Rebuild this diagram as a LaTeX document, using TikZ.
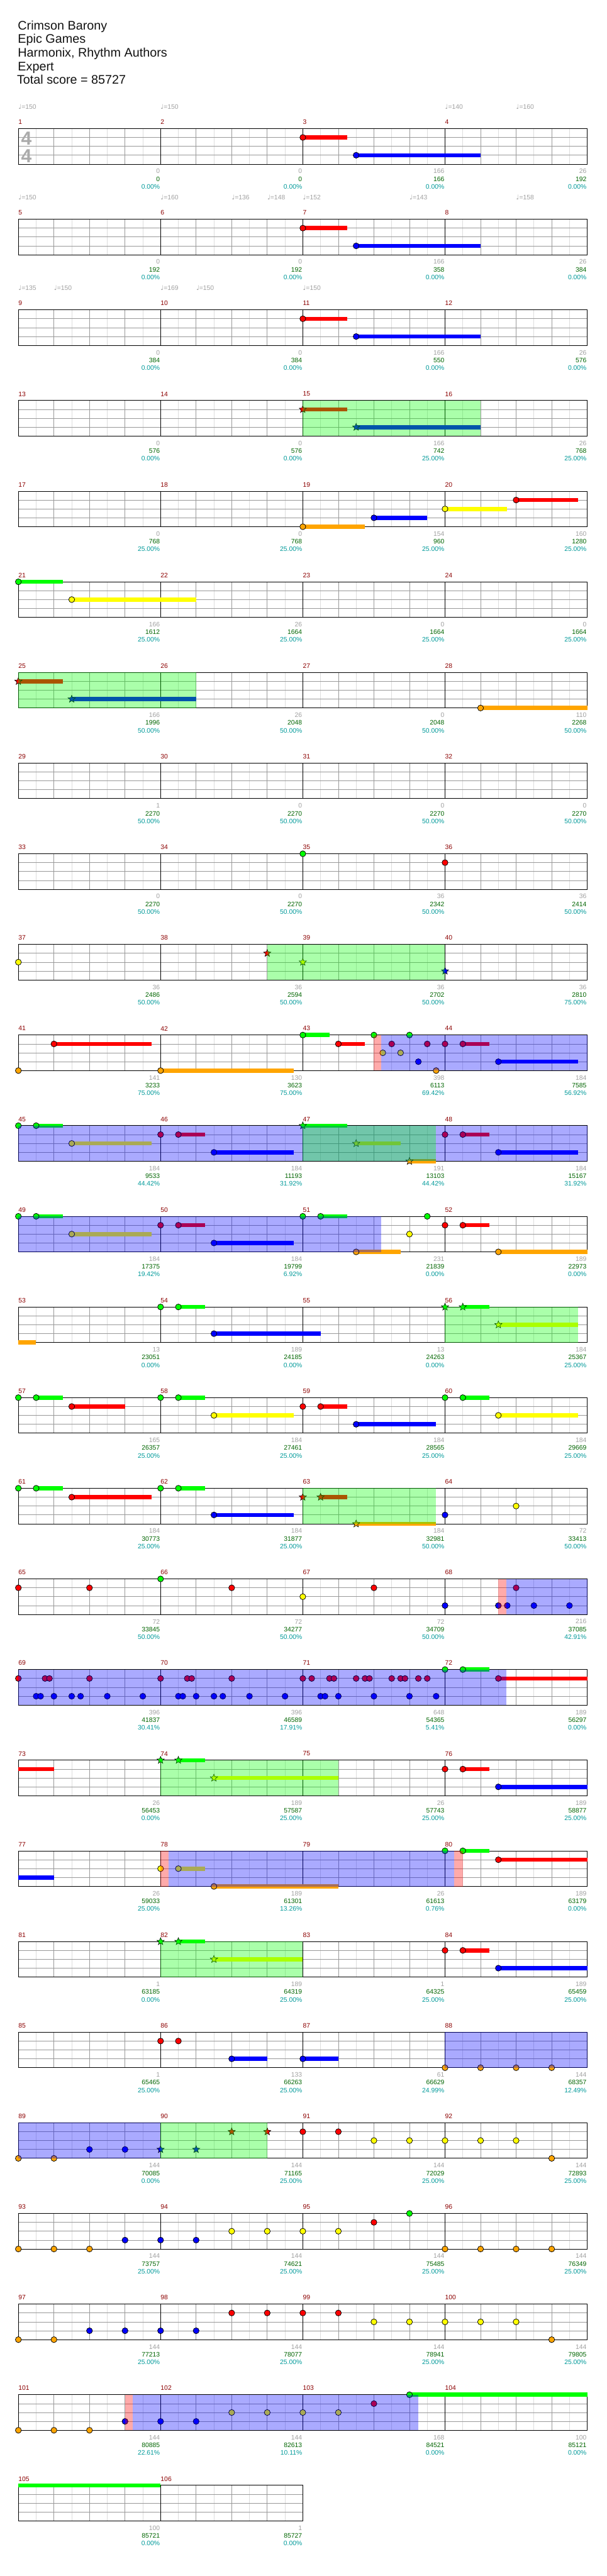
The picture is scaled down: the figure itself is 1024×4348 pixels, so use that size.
\documentclass[tikz,border=0pt]{standalone}
\usepackage{fontspec}
\setmainfont{Liberation Sans}
\newfontfamily\notefont{DejaVu Sans}
\usepackage{tikz}
\definecolor{cgrid}{HTML}{999999}
\definecolor{chalf}{HTML}{DDDDDD}
\definecolor{cnum}{HTML}{8B0000}
\definecolor{cgray}{HTML}{A0A0A0}
\definecolor{cscore}{HTML}{006400}
\definecolor{cpct}{HTML}{009999}
\definecolor{ln0}{HTML}{00FF00}
\definecolor{ln1}{HTML}{FF0000}
\definecolor{ln2}{HTML}{FFFF00}
\definecolor{ln3}{HTML}{0000FF}
\definecolor{ln4}{HTML}{FFA500}
\tikzset{lbl/.style={font=\fontsize{11}{12}\selectfont,inner sep=0pt},
  mnum/.style={lbl,text=cnum,anchor=west},
  tempo/.style={lbl,text=cgray,anchor=west},
  ttl/.style={font=\fontsize{21}{24}\selectfont,inner sep=0pt,anchor=base west,text=black!93},
  note/.style={draw=black,line width=0.8pt},
  halfln/.style={chalf,line width=0.8pt},
  beatln/.style={cgrid,line width=0.8pt},
  barln/.style={black,line width=0.9pt}}
% lanes: 0 green (top line) ... 4 orange (bottom line), x in beats from row start
\newcommand{\ntap}[2]{\filldraw[note,fill=ln#2] ({31+60*#1},{217+15*#2}) circle (5);}
\newcommand{\nhold}[3]{\fill[ln#3] ({31+60*#1},{213.5+15*#3}) rectangle ({31+60*#2},{220.5+15*#3});}
\newcommand{\nsus}[3]{\nhold{#1}{#2}{#3}\ntap{#1}{#3}}
\newcommand{\nstar}[2]{\filldraw[note,line width=0.6pt,fill=ln#2] ({31+60*#1},{217+15*#2}) +(270:6.5) -- +(306:2.8) -- +(342:6.5) -- +(18:2.8) -- +(54:6.5) -- +(90:2.8) -- +(126:6.5) -- +(162:2.8) -- +(198:6.5) -- +(234:2.8) -- cycle;}
\newcommand{\nssus}[3]{\nhold{#1}{#2}{#3}\nstar{#1}{#3}}
\newcommand{\spzone}[2]{\fill[ln0,fill opacity=0.333] ({31+60*#1},217) rectangle ({31+60*#2},277);}
\newcommand{\odzone}[2]{\fill[ln3,fill opacity=0.333] ({31+60*#1},217) rectangle ({31+60*#2},277);}
\newcommand{\aczone}[2]{\fill[ln1,fill opacity=0.333] ({31+60*#1},217) rectangle ({31+60*#2},277);}
\newcommand{\staffgrid}[1]{%
  \pgfmathtruncatemacro\nb{4*#1-1}
  \foreach \i in {0,...,\nb} \draw[halfln] ({61+60*\i},217) -- ++(0,60);
  \foreach \i in {1,...,\nb} \draw[beatln] ({31+60*\i},217) -- ++(0,60);
  \foreach \k in {1,2,3} \draw[beatln] (31,{217+15*\k}) -- ++({240*#1},0);
  \foreach \i in {1,...,#1} \draw[barln] ({31+240*\i},217) -- ++(0,60);
  \draw[barln] (31,217) rectangle ++({240*#1},60);}
\newcommand{\tempomark}[4]{\node[tempo] (#1) at (#2,#3) {{\notefont ♩}=#4};}

\begin{document}
\begin{tikzpicture}[x=1pt,y=-1pt]
\useasboundingbox (0,0) rectangle (1024,4348);

% ===== header =====
\node[ttl] (song) at (30,50) {Crimson Barony};
\node[ttl] (artist) at (30,73) {Epic Games};
\node[ttl] (charter) at (30,96) {Harmonix, Rhythm Authors};
\node[ttl] (diff) at (30,119) {Expert};
\node[ttl] (total) at (28.5,142) {Total score = 85727};

% ===== tempo marks =====
\tempomark{ta1}{31}{180}{150} \tempomark{ta2}{271}{180}{150}
\tempomark{ta3}{751}{180}{140} \tempomark{ta4}{871}{180}{160}
\tempomark{tb1}{31}{333}{150} \tempomark{tb2}{271}{333}{160}
\tempomark{tb3}{391}{333}{136} \tempomark{tb4}{451}{333}{148}
\tempomark{tb5}{511}{333}{152} \tempomark{tb6}{691}{333}{143}
\tempomark{tb7}{871}{333}{158}
\tempomark{tc1}{31}{486}{135} \tempomark{tc2}{91}{486}{150}
\tempomark{tc3}{271}{486}{169} \tempomark{tc4}{331}{486}{150}
\tempomark{tc5}{511}{486}{150}

% ===== staves =====
\foreach \r in {0,...,25} {\begin{scope}[shift={(0,153*\r)}]\staffgrid{4}\end{scope}}
\begin{scope}[shift={(0,153*26)}]\staffgrid{2}\end{scope}
\node[font=\fontsize{32}{32}\selectfont\bfseries,text=black!33,inner sep=0pt] (tsup) at (44.5,233.5) {4};
\node[font=\fontsize{32}{32}\selectfont\bfseries,text=black!33,inner sep=0pt] (tsdn) at (44.5,263.5) {4};

% ===== measure numbers and scores =====
\foreach \mno/\gain/\tot/\pct in {1/0/0/0.00,2/0/0/0.00,3/166/166/0.00,4/26/192/0.00,
  5/0/192/0.00,6/0/192/0.00,7/166/358/0.00,8/26/384/0.00,
  9/0/384/0.00,10/0/384/0.00,11/166/550/0.00,12/26/576/0.00,
  13/0/576/0.00,14/0/576/0.00,15/166/742/25.00,16/26/768/25.00,
  17/0/768/25.00,18/0/768/25.00,19/154/960/25.00,20/160/1280/25.00,
  21/166/1612/25.00,22/26/1664/25.00,23/0/1664/25.00,24/0/1664/25.00,
  25/166/1996/50.00,26/26/2048/50.00,27/0/2048/50.00,28/110/2268/50.00,
  29/1/2270/50.00,30/0/2270/50.00,31/0/2270/50.00,32/0/2270/50.00,
  33/0/2270/50.00,34/0/2270/50.00,35/36/2342/50.00,36/36/2414/50.00,
  37/36/2486/50.00,38/36/2594/50.00,39/36/2702/50.00,40/36/2810/75.00,
  41/141/3233/75.00,42/130/3623/75.00,43/398/6113/69.42,44/184/7585/56.92,
  45/184/9533/44.42,46/184/11193/31.92,47/191/13103/44.42,48/184/15167/31.92,
  49/184/17375/19.42,50/184/19799/6.92,51/231/21839/0.00,52/189/22973/0.00,
  53/13/23051/0.00,54/189/24185/0.00,55/13/24263/0.00,56/184/25367/25.00,
  57/165/26357/25.00,58/184/27461/25.00,59/184/28565/25.00,60/184/29669/25.00,
  61/184/30773/25.00,62/184/31877/25.00,63/184/32981/50.00,64/72/33413/50.00,
  65/72/33845/50.00,66/72/34277/50.00,67/72/34709/50.00,68/216/37085/42.91,
  69/396/41837/30.41,70/396/46589/17.91,71/648/54365/5.41,72/189/56297/0.00,
  73/26/56453/0.00,74/189/57587/25.00,75/26/57743/25.00,76/189/58877/25.00,
  77/26/59033/25.00,78/189/61301/13.26,79/26/61613/0.76,80/189/63179/0.00,
  81/1/63185/0.00,82/189/64319/25.00,83/1/64325/25.00,84/189/65459/25.00,
  85/1/65465/25.00,86/133/66263/25.00,87/61/66629/24.99,88/144/68357/12.49,
  89/144/70085/0.00,90/144/71165/25.00,91/144/72029/25.00,92/144/72893/25.00,
  93/144/73757/25.00,94/144/74621/25.00,95/144/75485/25.00,96/144/76349/25.00,
  97/144/77213/25.00,98/144/78077/25.00,99/144/78941/25.00,100/144/79805/25.00,
  101/144/80885/22.61,102/144/82613/10.11,103/168/84521/0.00,104/100/85121/0.00,
  105/100/85721/0.00,106/1/85727/0.00} {
  \pgfmathtruncatemacro\rw{int((\mno-1)/4)}
  \pgfmathtruncatemacro\cl{mod(\mno-1,4)}
  \node[mnum] (m\mno) at ({31+240*\cl},{206+153*\rw}) {\mno};
  \node[lbl,text=cgray,anchor=east] (g\mno) at ({270+240*\cl},{289+153*\rw}) {\gain};
  \node[lbl,text=cscore,anchor=east] (s\mno) at ({270+240*\cl},{302+153*\rw}) {\tot};
  \node[lbl,text=cpct,anchor=east] (p\mno) at ({270+240*\cl},{315+153*\rw}) {\pct\%};
}

% ===== notes, row by row =====
\foreach \r in {0,1,2} {\begin{scope}[shift={(0,153*\r)}]
  \nsus{8}{9.25}{1} \nsus{9.5}{13}{3}
\end{scope}}
% measures 13-16
\begin{scope}[shift={(0,153*3)}]
  \nssus{8}{9.25}{1} \nssus{9.5}{13}{3} \spzone{8}{13}
\end{scope}
% measures 17-20
\begin{scope}[shift={(0,153*4)}]
  \nsus{8}{9.75}{4} \nsus{10}{11.5}{3} \nsus{12}{13.75}{2} \nsus{14}{15.75}{1}
\end{scope}
% measures 21-24
\begin{scope}[shift={(0,153*5)}]
  \nsus{0}{1.25}{0} \nsus{1.5}{5}{2}
\end{scope}
% measures 25-28
\begin{scope}[shift={(0,153*6)}]
  \nssus{0}{1.25}{1} \nssus{1.5}{5}{3} \spzone{0}{5} \nsus{13}{16}{4}
\end{scope}
% measures 33-36
\begin{scope}[shift={(0,153*8)}]
  \ntap{8}{0} \ntap{12}{1}
\end{scope}
% measures 37-40
\begin{scope}[shift={(0,153*9)}]
  \ntap{0}{2} \nstar{7}{1} \nstar{8}{2} \nstar{12}{3} \spzone{7}{12}
\end{scope}
% measures 41-44
\begin{scope}[shift={(0,153*10)}]
  \ntap{0}{4} \nsus{1}{3.75}{1} \nsus{4}{7.75}{4} \nsus{8}{8.75}{0} \nsus{9}{9.75}{1}
  \ntap{10}{0} \ntap{11}{0} \ntap{10.5}{1} \ntap{11.5}{1} \ntap{12}{1} \nsus{12.5}{13.25}{1}
  \ntap{10.25}{2} \ntap{10.75}{2} \ntap{11.25}{3} \nsus{13.5}{15.75}{3} \ntap{11.75}{4}
  \aczone{10}{10.2} \odzone{10.2}{16}
\end{scope}
% measures 45-48
\begin{scope}[shift={(0,153*11)}]
  \ntap{0}{0} \nsus{0.5}{1.25}{0} \nsus{1.5}{3.75}{2} \ntap{4}{1} \nsus{4.5}{5.25}{1}
  \nsus{5.5}{7.75}{3} \nssus{8}{9.25}{0} \nssus{9.5}{10.75}{2} \nssus{11}{11.75}{4}
  \ntap{12}{1} \nsus{12.5}{13.25}{1} \nsus{13.5}{15.75}{3}
  \odzone{0}{16} \spzone{8}{11.75}
\end{scope}
% measures 49-52
\begin{scope}[shift={(0,153*12)}]
  \ntap{0}{0} \nsus{0.5}{1.25}{0} \nsus{1.5}{3.75}{2} \ntap{4}{1} \nsus{4.5}{5.25}{1}
  \nsus{5.5}{7.75}{3} \ntap{8}{0} \nsus{8.5}{9.25}{0} \nsus{9.5}{10.75}{4}
  \ntap{11}{2} \ntap{11.5}{0} \ntap{12}{1} \nsus{12.5}{13.25}{1} \nsus{13.5}{16}{4}
  \odzone{0}{10.2}
\end{scope}
% measures 53-56
\begin{scope}[shift={(0,153*13)}]
  \nhold{0}{0.5}{4} \ntap{4}{0} \nsus{4.5}{5.25}{0} \nsus{5.5}{8.5}{3}
  \nstar{12}{0} \nssus{12.5}{13.25}{0} \nssus{13.5}{15.75}{2} \spzone{12}{15.75}
\end{scope}
% measures 57-60
\begin{scope}[shift={(0,153*14)}]
  \ntap{0}{0} \nsus{0.5}{1.25}{0} \nsus{1.5}{3}{1} \ntap{4}{0} \nsus{4.5}{5.25}{0}
  \nsus{5.5}{7.75}{2} \ntap{8}{1} \nsus{8.5}{9.25}{1} \nsus{9.5}{11.75}{3}
  \ntap{12}{0} \nsus{12.5}{13.25}{0} \nsus{13.5}{15.75}{2}
\end{scope}
% measures 61-64
\begin{scope}[shift={(0,153*15)}]
  \ntap{0}{0} \nsus{0.5}{1.25}{0} \nsus{1.5}{3.75}{1} \ntap{4}{0} \nsus{4.5}{5.25}{0}
  \nsus{5.5}{7.75}{3} \nstar{8}{1} \nssus{8.5}{9.25}{1} \nssus{9.5}{11.75}{4}
  \spzone{8}{11.75} \ntap{12}{3} \ntap{14}{2}
\end{scope}
% measures 65-68
\begin{scope}[shift={(0,153*16)}]
  \ntap{0}{1} \ntap{2}{1} \ntap{4}{0} \ntap{6}{1} \ntap{8}{2} \ntap{10}{1}
  \ntap{12}{3} \ntap{13.5}{3} \ntap{13.75}{3} \ntap{14.5}{3} \ntap{15.5}{3} \ntap{14}{1}
  \aczone{13.5}{13.72} \odzone{13.72}{16}
\end{scope}
% measures 69-72
\begin{scope}[shift={(0,153*17)}]
  \foreach \b in {0,0.75,0.875,2,4,4.75,4.875,6,8,8.25,8.75,8.875,9.5,9.75,9.875,10.5,10.75,10.875,11.25,11.5} {\ntap{\b}{1}}
  \foreach \b in {0.5,0.625,1,1.5,1.75,2.5,3.5,4.5,4.625,5,5.5,5.75,6.5,7.5,8.5,8.625,9,10,11,11.75} {\ntap{\b}{3}}
  \ntap{12}{0} \nsus{12.5}{13.25}{0} \nsus{13.5}{16}{1}
  \odzone{0}{13.72}
\end{scope}
% measures 73-76
\begin{scope}[shift={(0,153*18)}]
  \nhold{0}{1}{1} \nstar{4}{0} \nssus{4.5}{5.25}{0} \nssus{5.5}{9}{2} \spzone{4}{9}
  \ntap{12}{1} \nsus{12.5}{13.25}{1} \nsus{13.5}{16}{3}
\end{scope}
% measures 77-80
\begin{scope}[shift={(0,153*19)}]
  \nhold{0}{1}{3} \ntap{4}{2} \nsus{4.5}{5.25}{2} \nsus{5.5}{9}{4}
  \ntap{12}{0} \nsus{12.5}{13.25}{0} \nsus{13.5}{16}{1}
  \aczone{4}{4.22} \odzone{4.22}{12.25} \aczone{12.25}{12.5}
\end{scope}
% measures 81-84
\begin{scope}[shift={(0,153*20)}]
  \nstar{4}{0} \nssus{4.5}{5.25}{0} \nssus{5.5}{8}{2} \spzone{4}{8}
  \ntap{12}{1} \nsus{12.5}{13.25}{1} \nsus{13.5}{16}{3}
\end{scope}
% measures 85-88
\begin{scope}[shift={(0,153*21)}]
  \ntap{4}{1} \ntap{4.5}{1} \nsus{6}{7}{3} \nsus{8}{9}{3}
  \foreach \b in {12,13,14,15} {\ntap{\b}{4}}
  \odzone{12}{16}
\end{scope}
% measures 89-92
\begin{scope}[shift={(0,153*22)}]
  \ntap{0}{4} \ntap{1}{4} \ntap{2}{3} \ntap{3}{3} \odzone{0}{4}
  \nstar{4}{3} \nstar{5}{3} \nstar{6}{1} \nstar{7}{1} \spzone{4}{7}
  \ntap{8}{1} \ntap{9}{1} \foreach \b in {10,...,14} {\ntap{\b}{2}} \ntap{15}{4}
\end{scope}
% measures 93-96
\begin{scope}[shift={(0,153*23)}]
  \foreach \b in {0,1,2,12,13,14,15} {\ntap{\b}{4}}
  \foreach \b in {3,4,5} {\ntap{\b}{3}}
  \foreach \b in {6,7,8,9} {\ntap{\b}{2}}
  \ntap{10}{1} \ntap{11}{0}
\end{scope}
% measures 97-100
\begin{scope}[shift={(0,153*24)}]
  \foreach \b in {0,1,15} {\ntap{\b}{4}}
  \foreach \b in {2,3,4,5} {\ntap{\b}{3}}
  \foreach \b in {6,7,8,9} {\ntap{\b}{1}}
  \foreach \b in {10,...,14} {\ntap{\b}{2}}
\end{scope}
% measures 101-104
\begin{scope}[shift={(0,153*25)}]
  \foreach \b in {0,1,2} {\ntap{\b}{4}}
  \foreach \b in {3,4,5} {\ntap{\b}{3}}
  \foreach \b in {6,7,8,9} {\ntap{\b}{2}}
  \ntap{10}{1} \nsus{11}{16}{0}
  \aczone{3}{3.22} \odzone{3.22}{11.25}
\end{scope}
% measures 105-106
\begin{scope}[shift={(0,153*26)}]
  \nhold{0}{4}{0}
\end{scope}

\end{tikzpicture}
\end{document}
